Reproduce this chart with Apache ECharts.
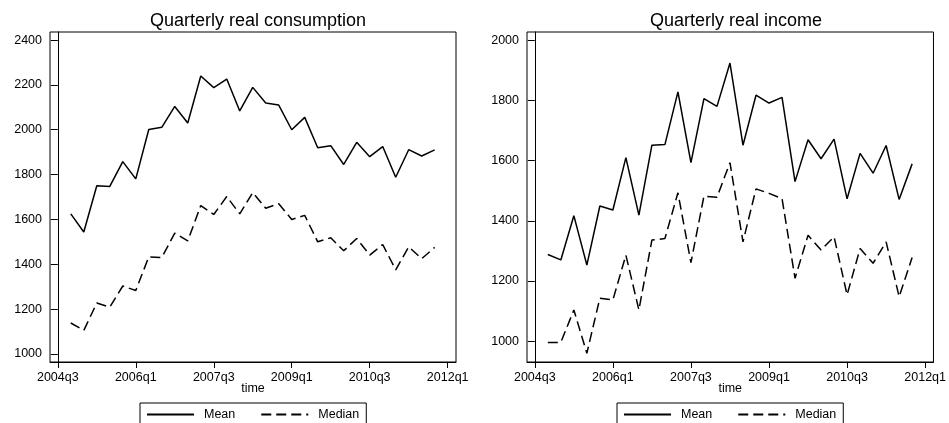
<!DOCTYPE html>
<html>
<head>
<meta charset="utf-8">
<script src="https://cdn.jsdelivr.net/npm/echarts@6/dist/echarts.min.js"></script>
<style>
html,body{margin:0;padding:0;background:#fff;}
#chart{width:949px;height:423px;}
</style>
</head>
<body>
<div id="chart"></div>
<script>
const quarters = ['2004q4','2005q1','2005q2','2005q3','2005q4','2006q1','2006q2','2006q3','2006q4',
  '2007q1','2007q2','2007q3','2007q4','2008q1','2008q2','2008q3','2008q4','2009q1','2009q2','2009q3',
  '2009q4','2010q1','2010q2','2010q3','2010q4','2011q1','2011q2','2011q3','2011q4'];
const tickLabels = ['2004q3','2006q1','2007q3','2009q1','2010q3','2012q1'];
const consMean = [1625,1544,1750,1747,1858,1781,2001,2011,2104,2030,2240,2188,2226,2084,2189,2119,2110,2000,2055,1920,1929,1845,1944,1880,1925,1788,1911,1883,1910];
const consMedian = [1138,1105,1227,1209,1303,1283,1433,1430,1539,1504,1662,1622,1702,1625,1720,1650,1670,1600,1618,1500,1518,1460,1515,1441,1488,1375,1478,1425,1475];
const incMean = [1288,1270,1417,1253,1449,1436,1610,1419,1651,1653,1828,1593,1806,1780,1924,1651,1817,1791,1810,1530,1669,1606,1671,1473,1624,1558,1650,1471,1589];
const incMedian = [996,996,1104,960,1143,1137,1286,1104,1336,1341,1493,1261,1482,1478,1593,1330,1506,1491,1474,1209,1352,1303,1347,1154,1308,1259,1330,1148,1278];
const consTicks = [1000,1200,1400,1600,1800,2000,2200,2400];
const incTicks = [1000,1200,1400,1600,1800,2000];

function qIndex(s){ const y=+s.slice(0,4), q=+s.slice(5); return (y-2004)*4 + (q-3); }
function qLabel(i){ const t=Math.round(i)+2; const y=2004+Math.floor(t/4); const q=(t%4)+1; return y+'q'+q; }
function pairs(vals){ return quarters.map((q,i)=>[qIndex(q), vals[i]]); }
const tickIdx = tickLabels.map(qIndex);

const FONT = 'Liberation Sans, Arial, Helvetica, sans-serif';
const black = '#000';

function xAxis(gi){
  return {
    type:'value', gridIndex:gi, min:-0.6, max:30.64,
    name:'time', nameLocation:'middle', nameGap:20, nameMoveOverlap:false,
    nameTextStyle:{color:black, fontSize:12.5, fontFamily:FONT},
    axisLine:{show:true, onZero:false, lineStyle:{color:black, width:1}},
    axisTick:{show:true, length:6, customValues:tickIdx, lineStyle:{color:black}},
    axisLabel:{customValues:tickIdx, formatter:v=>qLabel(v), color:black, fontSize:12.5, fontFamily:FONT, margin:9},
    splitLine:{show:false}
  };
}
function yAxis(gi, min, max, ticks){
  return {
    type:'value', gridIndex:gi, min:min, max:max,
    axisLine:{show:true, lineStyle:{color:black, width:1}},
    axisTick:{show:true, length:7, customValues:ticks, lineStyle:{color:black}},
    axisLabel:{customValues:ticks, formatter:v=>String(v), color:black, fontSize:12.5, fontFamily:FONT, margin:8},
    splitLine:{show:false}
  };
}
function line(name, data, xi, dashed){
  return {
    name:name, type:'line', xAxisIndex:xi, yAxisIndex:xi, data:data,
    symbol:'none', animation:false,
    lineStyle:{color:black, width:1.5, type: dashed ? [10,5] : 'solid'},
    itemStyle:{color:black}
  };
}
function legend(left){
  return {
    left:left, top:403, orient:'horizontal',
    data:['Mean','Median'],
    itemWidth:47, itemHeight:14, itemGap:25,
    itemStyle:{color:'rgba(0,0,0,0)', borderColor:'rgba(0,0,0,0)', borderWidth:0, opacity:0},
    borderColor:black, borderWidth:1, padding:[5,7,6,6],
    textStyle:{color:black, fontSize:12.5, fontFamily:FONT, padding:[0,0,0,5]},
    selectedMode:false
  };
}

const chart = echarts.init(document.getElementById('chart'), null, {renderer:'canvas'});
chart.setOption({
  backgroundColor:'#fff',
  animation:false,
  title:[
    {text:'Quarterly real consumption', left:253, top:7, textAlign:'center',
     textStyle:{color:black, fontSize:18, fontWeight:'normal', fontFamily:FONT}},
    {text:'Quarterly real income', left:731, top:7, textAlign:'center',
     textStyle:{color:black, fontSize:18, fontWeight:'normal', fontFamily:FONT}}
  ],
  grid:[
    {left:50, right:493, top:32, bottom:61, show:true, borderColor:black, borderWidth:1, backgroundColor:'#fff'},
    {left:527, right:14, top:32, bottom:61, show:true, borderColor:black, borderWidth:1, backgroundColor:'#fff'}
  ],
  legend:[legend(140), legend(617)],
  xAxis:[xAxis(0), xAxis(1)],
  yAxis:[yAxis(0, 964, 2436, consTicks), yAxis(1, 931, 2027, incTicks)],
  series:[
    line('Mean', pairs(consMean), 0, false),
    line('Median', pairs(consMedian), 0, true),
    line('Mean', pairs(incMean), 1, false),
    line('Median', pairs(incMedian), 1, true)
  ]
});
</script>
</body>
</html>
